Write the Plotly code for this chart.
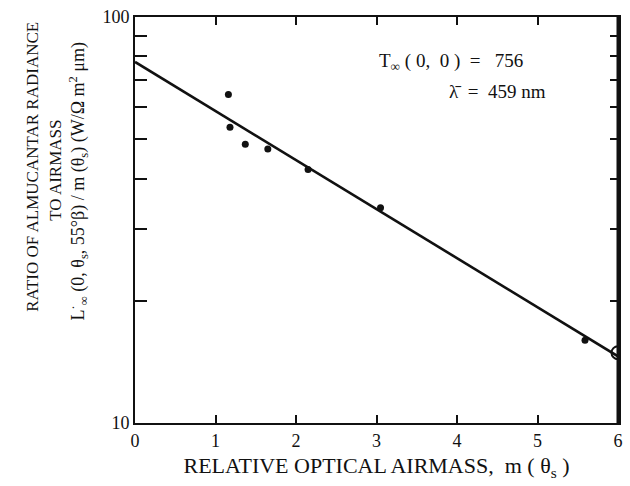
import plotly.graph_objects as go

# Measured ratio of almucantar radiance to airmass
airmass = [1.16, 1.18, 1.37, 1.65, 2.15, 3.05, 5.59]
ratio = [64.4, 53.5, 48.6, 47.3, 42.1, 33.9, 16.0]

# Point at the edge of the airmass range (open marker)
edge_airmass = [6.0]
edge_ratio = [14.9]

# Least-squares fit line end points
fit_airmass = [0.0, 6.0]
fit_ratio = [77.5, 14.6]

x_ticks = [0, 1, 2, 3, 4, 5, 6]
y_ticks = [10, 20, 30, 40, 50, 60, 70, 80, 90, 100]
y_ticktext = ["10", "", "", "", "", "", "", "", "", "100"]

SERIF = "Liberation Serif, Times New Roman, serif"
INK = "#111111"

fig = go.Figure()

fig.add_trace(go.Scatter(
    x=fit_airmass, y=fit_ratio, mode="lines",
    line=dict(color=INK, width=2.6), showlegend=False, hoverinfo="skip",
))
fig.add_trace(go.Scatter(
    x=airmass, y=ratio, mode="markers",
    marker=dict(color=INK, size=7, symbol="circle"), showlegend=False,
))
fig.add_trace(go.Scatter(
    x=edge_airmass, y=edge_ratio, mode="markers",
    marker=dict(color=INK, size=13, symbol="circle-open",
                line=dict(color=INK, width=2)),
    showlegend=False,
))
# invisible trace to drive the right-hand tick axis
fig.add_trace(go.Scatter(
    x=[0], y=[10], yaxis="y2", mode="markers",
    marker=dict(opacity=0), showlegend=False, hoverinfo="skip",
))

fig.update_layout(
    width=630, height=486,
    margin=dict(l=135, r=7, t=16, b=63),
    paper_bgcolor="white", plot_bgcolor="white",
    font=dict(family=SERIF, color=INK, size=18),
    xaxis=dict(
        range=[0, 6], tickvals=x_ticks, ticks="inside", ticklen=8,
        tickwidth=1.6, tickcolor=INK, showline=True, linewidth=2,
        linecolor=INK, mirror="ticks", showgrid=False, zeroline=False,
        tickfont=dict(size=18, family=SERIF),
        title=dict(text="RELATIVE OPTICAL AIRMASS,  m ( θ<sub>s</sub> )",
                   font=dict(size=22, family=SERIF), standoff=8),
    ),
    yaxis=dict(
        type="log", range=[1, 2], tickvals=y_ticks, ticktext=y_ticktext,
        ticks="inside", ticklen=12, tickwidth=1.6, tickcolor=INK,
        showline=True, linewidth=2, linecolor=INK, mirror=False,
        showgrid=False, zeroline=False,
        tickfont=dict(size=18, family=SERIF),
    ),
    yaxis2=dict(
        type="log", range=[1, 2], overlaying="y", side="right",
        tickvals=y_ticks, showticklabels=False, ticks="inside", ticklen=8,
        tickwidth=1.6, tickcolor=INK, showline=True, linewidth=2.5,
        linecolor=INK, showgrid=False, zeroline=False,
    ),
)

# Right-hand frame edge, drawn explicitly on top
fig.add_shape(
    type="line", xref="paper", yref="paper", x0=1, x1=1, y0=0, y1=1,
    line=dict(color=INK, width=3), layer="above",
)

# Y-axis title block (three rotated lines)
y_title_lines = [
    ("RATIO OF ALMUCANTAR RADIANCE", -0.212, 0.63, 17),
    ("TO AIRMASS", -0.165, 0.622, 17),
    ("L<sup>·</sup><sub>∞</sub> (0, θ<sub>s</sub>, 55°β) / m (θ<sub>s</sub>) (W/Ω m<sup>2</sup> μm)",
     -0.118, 0.595, 18),
]
for text, xp, yp, fs in y_title_lines:
    fig.add_annotation(
        text=text, xref="paper", yref="paper", x=xp, y=yp,
        textangle=-90, showarrow=False, xanchor="center", yanchor="middle",
        font=dict(size=fs, family=SERIF, color=INK),
    )

# Fit parameters
fig.add_annotation(
    text="T<sub>∞</sub> ( 0,  0 )  =   756", xref="paper", yref="paper",
    x=0.50, y=0.889, xanchor="left", yanchor="middle", showarrow=False,
    font=dict(size=19, family=SERIF, color=INK),
)
fig.add_annotation(
    text="λ\u0304  =  459 nm", xref="paper", yref="paper",
    x=0.645, y=0.816, xanchor="left", yanchor="middle", showarrow=False,
    font=dict(size=19, family=SERIF, color=INK),
)

fig.write_html("out.html")
